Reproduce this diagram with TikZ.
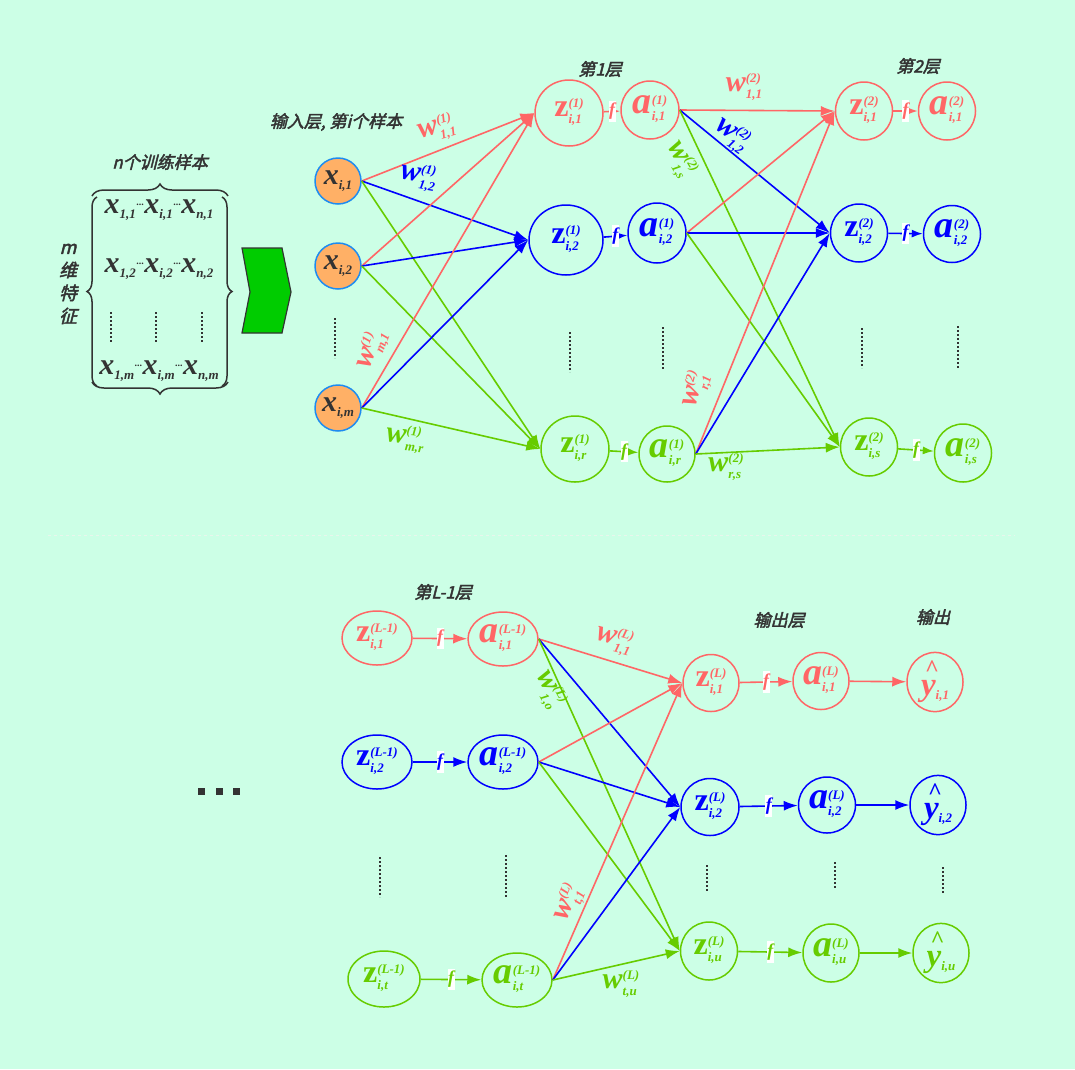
\documentclass[tikz,border=0pt]{standalone}
\usepackage{fontspec}
\setmainfont{Liberation Serif}
\newfontfamily\cjk[FakeSlant=0.25,FakeBold=2.5]{Noto Sans CJK SC}
\usetikzlibrary{shapes.geometric,arrows.meta,decorations.pathreplacing}
\definecolor{bgc}{HTML}{CCFFE6}
\definecolor{cr}{HTML}{FF6666}
\definecolor{cb}{HTML}{0000FF}
\definecolor{cg}{HTML}{66CC00}
\definecolor{dk}{HTML}{333333}
\definecolor{orf}{HTML}{FFB066}
\definecolor{orb}{HTML}{1E8CF0}
\definecolor{arw}{HTML}{00CC00}
\definecolor{sep}{HTML}{E8F6EC}
\newcommand\MySupSub[2]{\raisebox{-7pt}{\fontsize{13}{13}\selectfont\bfseries\itshape\begin{tabular}[b]{@{}l@{}}#1\\[3pt]#2\end{tabular}}}
\newcommand\Zl[2]{{\fontsize{32}{32}\selectfont\bfseries z}\MySupSub{#1}{#2}}
\newcommand\Al[2]{{\fontsize{38}{38}\selectfont\bfseries\itshape a}\MySupSub{#1}{#2}}
\newcommand\Wl[2]{{\fontsize{30}{30}\selectfont\bfseries\itshape w}\MySupSub{#1}{#2}}
\newcommand\Xl[1]{{\fontsize{30}{30}\selectfont\bfseries\itshape x}\raisebox{-5pt}{\fontsize{13}{13}\selectfont\bfseries\itshape #1}}
\newcommand\Yl[1]{\makebox[0pt][l]{\hspace{4pt}\raisebox{19pt}{\fontsize{24}{24}\selectfont\bfseries\textasciicircum}}{\fontsize{33}{33}\selectfont\bfseries\itshape y}\raisebox{-4pt}{\fontsize{13}{13}\selectfont\bfseries\itshape #1}}
\newcommand\Md{\kern0.5pt\raisebox{8pt}{\fontsize{10}{10}\selectfont\bfseries...}\kern0.5pt}
\begin{document}
\begin{tikzpicture}[x=1pt,y=-1pt,
  neu/.style={ellipse,draw,line width=1.5pt,inner sep=0pt},
  inp/.style={circle,draw=orb,fill=orf,line width=1.5pt,inner sep=0pt,minimum size=46pt,text=dk},
  conn/.style={line width=1.6pt,-{Latex[length=14pt,width=10pt]}},
  connf/.style={line width=1.6pt,-{Latex[length=11pt,width=8pt]}},
  fb/.style={fill=white,inner xsep=0.5pt,inner ysep=2.5pt,font=\fontsize{18}{18}\selectfont\bfseries\itshape},
  hd/.style={text=dk,font=\cjk\fontsize{17}{17}\selectfont},
  vd/.style={dk,line width=1.6pt,dash pattern=on 1.6pt off 2.4pt},
  br/.style={dk,line width=1.5pt,decorate,decoration={brace,amplitude=12pt}},
  wl/.style={inner sep=0pt}]
\useasboundingbox (0,0) rectangle (1075,1069);
\fill[bgc] (0,0) rectangle (1075,1069);
\draw[sep,dashed,line width=0.8pt] (48,535) -- (1015,535);

% ---------- data matrix ----------
\node[hd] (tn) at (160,162) {n个训练样本};
\node[hd,align=center,font=\cjk\fontsize{18}{23}\selectfont] (tm) at (68,284) {m\\维\\特\\征};
\draw[br] (92,196) -- (228,196);
\draw[br] (228,382) -- (92,382);
\draw[br,decoration={amplitude=10pt}] (97,386) -- (97,197);
\draw[br,decoration={amplitude=10pt}] (222,197) -- (222,386);
\node[text=dk,inner sep=0pt] (r1) at (159,210) {\Xl{1,1}\Md\Xl{i,1}\Md\Xl{n,1}};
\node[text=dk,inner sep=0pt] (r2) at (159,269) {\Xl{1,2}\Md\Xl{i,2}\Md\Xl{n,2}};
\node[text=dk,inner sep=0pt] (r3) at (159,371) {\Xl{1,m}\Md\Xl{i,m}\Md\Xl{n,m}};
\draw[vd] (111,312) -- (111,342);
\draw[vd] (156,312) -- (156,342);
\draw[vd] (202,312) -- (202,342);
\draw[fill=arw,draw=dk,line width=1.2pt] (242,248) -- (282,248) -- (291,292) -- (282,333) -- (242,333) -- (250,292) -- cycle;

% ---------- input layer ----------
\node[hd] (tin) at (336,122) {输入层, 第i个样本};
\node[inp] (x1) at (338,181) {\Xl{i,1}};
\node[inp] (x2) at (338,266) {\Xl{i,2}};
\node[inp] (xm) at (338,408) {\Xl{i,m}};
\draw[vd] (335,318) -- (335,358);

% ---------- layer 1 ----------
\node[hd] (tl1) at (600,69) {第1层};
\node[neu,draw=cr,text=cr,minimum width=68pt,minimum height=66pt] (z11) at (569,113) {\Zl{(1)}{i,1}};
\node[neu,draw=cr,text=cr,minimum width=58pt,minimum height=58pt] (a11) at (650,110) {\Al{(1)}{i,1}};
\node[neu,draw=cb,text=cb,minimum width=74pt,minimum height=70pt] (z12) at (566,240) {\Zl{(1)}{i,2}};
\node[neu,draw=cb,text=cb,minimum width=58pt,minimum height=60pt] (a12) at (657,233) {\Al{(1)}{i,2}};
\node[neu,draw=cg,text=cg,minimum width=68pt,minimum height=66pt] (z1r) at (575,449) {\Zl{(1)}{i,r}};
\node[neu,draw=cg,text=cg,minimum width=56pt,minimum height=56pt] (a1r) at (667,454) {\Al{(1)}{i,r}};
\draw[vd] (570,332) -- (570,372);
\draw[vd] (663,327) -- (663,369);

% ---------- layer 2 ----------
\node[hd] (tl2) at (918,66) {第2层};
\node[neu,draw=cr,text=cr,minimum width=57pt,minimum height=58pt] (z21) at (864,111) {\Zl{(2)}{i,1}};
\node[neu,draw=cr,text=cr,minimum width=57pt,minimum height=58pt] (a21) at (947,111) {\Al{(2)}{i,1}};
\node[neu,draw=cb,text=cb,minimum width=57pt,minimum height=58pt] (z22) at (859,233) {\Zl{(2)}{i,2}};
\node[neu,draw=cb,text=cb,minimum width=57pt,minimum height=57pt] (a22) at (952,234) {\Al{(2)}{i,2}};
\node[neu,draw=cg,text=cg,minimum width=57pt,minimum height=58pt] (z2s) at (869,447) {\Zl{(2)}{i,s}};
\node[neu,draw=cg,text=cg,minimum width=57pt,minimum height=58pt] (a2s) at (963,453) {\Al{(2)}{i,s}};
\draw[vd] (862,328) -- (862,368);
\draw[vd] (958,326) -- (958,368);

% ---------- top edges ----------
\foreach \s in {x1,x2,xm}{
  \draw[conn,cr] (\s.east) -- (z11.west);
  \draw[conn,cb] (\s.east) -- (z12.west);
  \draw[conn,cg] (\s.east) -- (z1r.west);
}
\foreach \s in {a11,a12,a1r}{
  \draw[conn,cr] (\s.east) -- (z21.west);
  \draw[conn,cb] (\s.east) -- (z22.west);
  \draw[conn,cg] (\s.east) -- (z2s.west);
}
\draw[connf,cr] (z11) -- node[fb,text=cr] (f11) {f} (a11);
\draw[connf,cb] (z12) -- node[fb,text=cb] (f12) {f} (a12);
\draw[connf,cg] (z1r) -- node[fb,text=cg] (f1r) {f} (a1r);
\draw[connf,cr] (z21) -- node[fb,text=cr] (f21) {f} (a21);
\draw[connf,cb] (z22) -- node[fb,text=cb] (f22) {f} (a22);
\draw[connf,cg] (z2s) -- node[fb,text=cg] (f2s) {f} (a2s);

% ---------- top weight labels ----------
\node[wl,text=cr,rotate=16] (w111) at (437,130) {\Wl{(1)}{1,1}};
\node[wl,text=cb,rotate=-10] (w112) at (418,178) {\Wl{(1)}{1,2}};
\node[wl,text=cr,rotate=70] (wm1) at (373,350) {\Wl{(1)}{m,1}};
\node[wl,text=cg,rotate=-6] (wmr) at (405,440) {\Wl{(1)}{m,r}};
\node[wl,text=cr] (w211) at (744,88) {\Wl{(2)}{1,1}};
\node[wl,text=cb,rotate=-35] (w212) at (731,136) {\Wl{(2)}{1,2}};
\node[wl,text=cg,rotate=-60] (w21s) at (679,160) {\Wl{(2)}{1,s}};
\node[wl,text=cr,rotate=75] (w2r1) at (697,390) {\Wl{(2)}{r,1}};
\node[wl,text=cg] (w2rs) at (726,468) {\Wl{(2)}{r,s}};

% ---------- bottom part ----------
\node[hd] (tlm) at (443,592) {第L-1层};
\node[hd] (tout) at (779,620) {输出层};
\node[hd] (ty) at (933,617) {输出};
\node[neu,draw=cr,text=cr,minimum width=70pt,minimum height=54pt] (zm1) at (377,638) {\Zl{(L-1)}{i,1}};
\node[neu,draw=cr,text=cr,minimum width=70pt,minimum height=54pt] (am1) at (503,639) {\Al{(L-1)}{i,1}};
\node[neu,draw=cb,text=cb,minimum width=70pt,minimum height=54pt] (zm2) at (377,762) {\Zl{(L-1)}{i,2}};
\node[neu,draw=cb,text=cb,minimum width=70pt,minimum height=54pt] (am2) at (503,762) {\Al{(L-1)}{i,2}};
\node[neu,draw=cg,text=cg,minimum width=72pt,minimum height=56pt] (zmt) at (384,979) {\Zl{(L-1)}{i,t}};
\node[neu,draw=cg,text=cg,minimum width=70pt,minimum height=54pt] (amt) at (517,980) {\Al{(L-1)}{i,t}};
\draw[vd] (380,857) -- (380,897);
\draw[vd] (506,855) -- (506,897);

\node[neu,draw=cr,text=cr,minimum width=56pt,minimum height=57pt] (zL1) at (711,683) {\Zl{(L)}{i,1}};
\node[neu,draw=cr,text=cr,minimum width=56pt,minimum height=57pt] (aL1) at (821,681) {\Al{(L)}{i,1}};
\node[neu,draw=cr,text=cr,minimum width=56pt,minimum height=57pt] (y1) at (935,682) {\Yl{i,1}};
\node[neu,draw=cb,text=cb,minimum width=58pt,minimum height=57pt] (zL2) at (710,807) {\Zl{(L)}{i,2}};
\node[neu,draw=cb,text=cb,minimum width=57pt,minimum height=56pt] (aL2) at (827,805) {\Al{(L)}{i,2}};
\node[neu,draw=cb,text=cb,minimum width=56pt,minimum height=57pt] (y2) at (938,805) {\Yl{i,2}};
\node[neu,draw=cg,text=cg,minimum width=57pt,minimum height=58pt] (zLu) at (709,951) {\Zl{(L)}{i,u}};
\node[neu,draw=cg,text=cg,minimum width=56pt,minimum height=58pt] (aLu) at (831,953) {\Al{(L)}{i,u}};
\node[neu,draw=cg,text=cg,minimum width=56pt,minimum height=58pt] (yu) at (941,953) {\Yl{i,u}};
\draw[vd] (707,865) -- (707,892);
\draw[vd] (835,862) -- (835,889);
\draw[vd] (943,867) -- (943,893);

\foreach \s in {am1,am2,amt}{
  \draw[conn,cr] (\s.east) -- (zL1.west);
  \draw[conn,cb] (\s.east) -- (zL2.west);
  \draw[conn,cg] (\s.east) -- (zLu.west);
}
\draw[conn,cr] (zm1) -- node[fb,text=cr] (fm1) {f} (am1);
\draw[conn,cb] (zm2) -- node[fb,text=cb] (fm2) {f} (am2);
\draw[conn,cg] (zmt) -- node[fb,text=cg] (fmt) {f} (amt);
\draw[conn,cr] (zL1) -- node[fb,text=cr] (fL1) {f} (aL1);
\draw[conn,cb] (zL2) -- node[fb,text=cb] (fL2) {f} (aL2);
\draw[conn,cg] (zLu) -- node[fb,text=cg] (fLu) {f} (aLu);
\draw[conn,cr] (aL1) -- (y1);
\draw[conn,cb] (aL2) -- (y2);
\draw[conn,cg] (aLu) -- (yu);

\node[wl,text=cr,rotate=-15] (wL11) at (614,641) {\Wl{(L)}{1,1}};
\node[wl,text=cg,rotate=-62] (wL1o) at (548,690) {\Wl{(L)}{1,o}};
\node[wl,text=cr,rotate=68] (wLt1) at (570,903) {\Wl{(L)}{t,1}};
\node[wl,text=cg] (wLtu) at (621,985) {\Wl{(L)}{t,u}};

\foreach \xx in {201,219,236}{
  \fill[dk] (\xx-3.5,787.5) rectangle (\xx+3.5,794.5);
}
\end{tikzpicture}
\end{document}
